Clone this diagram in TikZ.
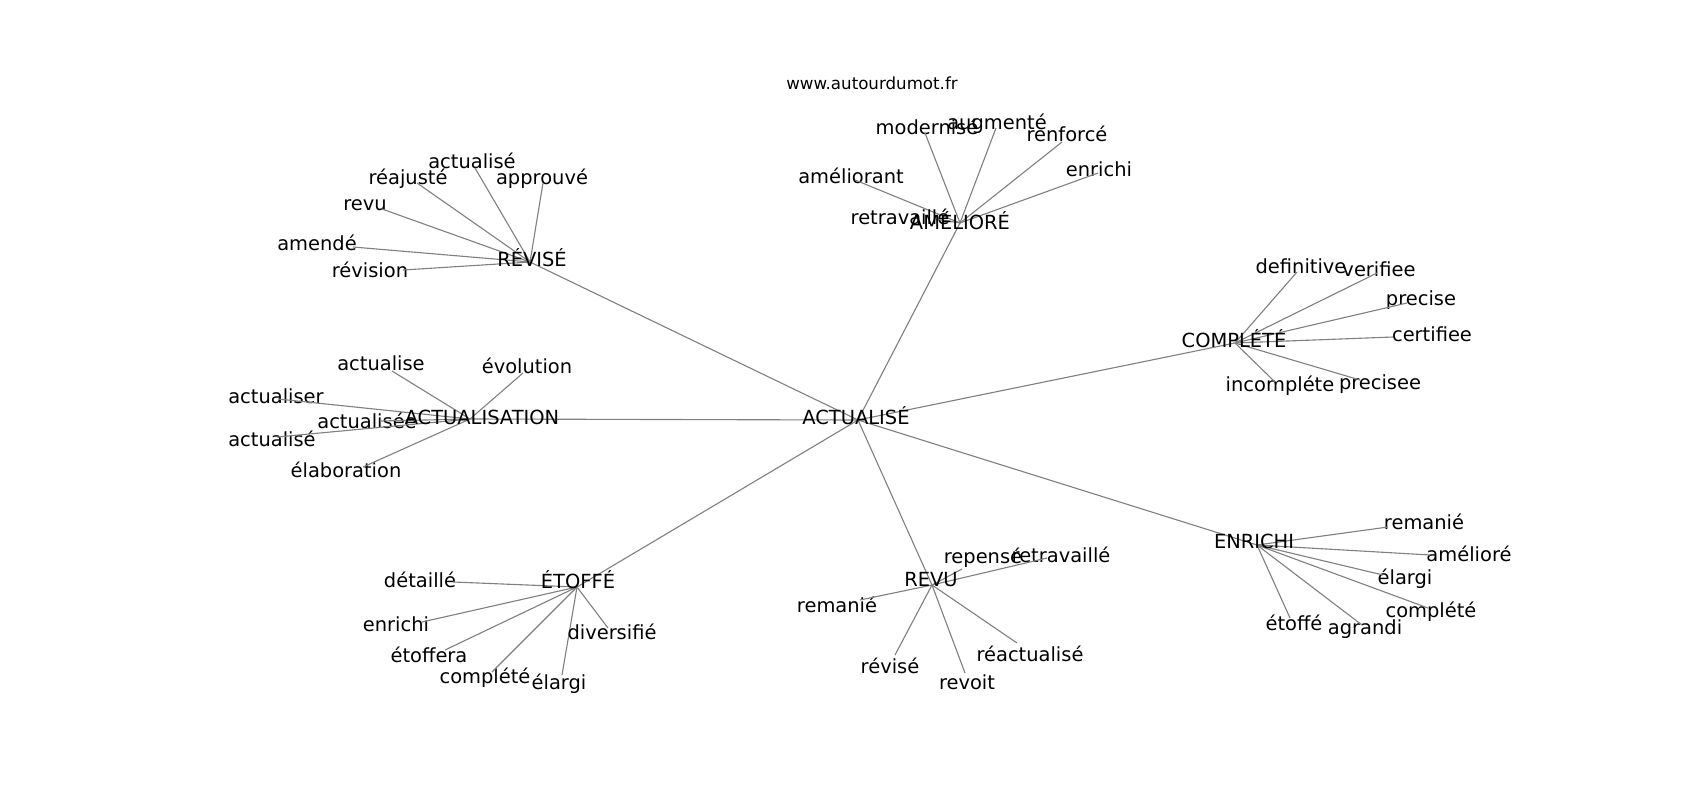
\documentclass[tikz,border=0pt]{standalone}
\usepackage{fontspec}
\setmainfont{DejaVu Sans}
\usepackage{tikz}

\begin{document}
\begin{tikzpicture}[x=0.72pt, y=-0.72pt,
                    link/.style={draw=gray, line width=0.8pt},
                    every node/.style={font=\fontsize{14}{16}\selectfont, inner sep=0pt,
                                       text height=1.15em, text depth=0.17em}]

    \useasboundingbox (0,0) rectangle (1700,800);

    % Source
    \node[font=\fontsize{12}{14}\selectfont] (site) at (872,83) {www.autourdumot.fr};

    % Centre and its seven neighbours
    \coordinate (actu) at (858,420);
    \coordinate (revise) at (530,262);
    \coordinate (ameliore) at (960,223);
    \coordinate (complete) at (1235,343);
    \coordinate (enrichi) at (1257,545);
    \coordinate (revu) at (932,585);
    \coordinate (etoffe) at (577,587);
    \coordinate (actualisation) at (470,419);

    \foreach \hub in {revise, ameliore, complete, enrichi, revu, etoffe, actualisation}
        \draw[link] (actu) -- (\hub);

    % Second level: end point / label position / text
    \foreach \n/\ex/\ey/\tx/\ty/\w in {
            rv1/475/168/472/162/actualisé, rv2/417/183/408/178/réajusté,
            rv3/543/183/542/178/approuvé, rv4/382/209/365/204/revu,
            rv5/353/247/317/244/amendé, rv6/403/270/370/271/révision}
        {\coordinate (\n) at (\ex,\ey);
         \node (\n-t) at (\tx,\ty) {\w};
         \draw[link] (revise) -- (\n);}

    \foreach \n/\ex/\ey/\tx/\ty/\w in {
            am1/925/133/927/128/modernisé, am2/996/128/997/123/augmenté,
            am3/1062/142/1067/135/renforcé, am4/1098/173/1099/170/enrichi,
            am5/855/180/851/177/améliorant, am6/935/219/900/218/retravaillé}
        {\coordinate (\n) at (\ex,\ey);
         \node (\n-t) at (\tx,\ty) {\w};
         \draw[link] (ameliore) -- (\n);}

    \foreach \n/\ex/\ey/\tx/\ty/\w in {
            co1/1297/272/1301/267/definitive, co2/1377/273/1379/270/verifiee,
            co3/1407/303/1421/299/precise, co4/1393/337/1432/335/certifiee,
            co5/1360/380/1380/383/precisee, co6/1275/382/1280/385/incompléte}
        {\coordinate (\n) at (\ex,\ey);
         \node (\n-t) at (\tx,\ty) {\w};
         \draw[link] (complete) -- (\n);}

    \foreach \n/\ex/\ey/\tx/\ty/\w in {
            en1/1388/527/1424/523/remanié, en2/1430/555/1469/555/amélioré,
            en3/1383/575/1405/578/élargi, en4/1428/608/1431/611/complété,
            en5/1362/625/1365/628/agrandi, en6/1290/618/1294/624/étoffé}
        {\coordinate (\n) at (\ex,\ey);
         \node (\n-t) at (\tx,\ty) {\w};
         \draw[link] (enrichi) -- (\n);}

    \foreach \n/\ex/\ey/\tx/\ty/\w in {
            rs1/962/569/983/557/repensé, rs2/1047/558/1061/556/retravaillé,
            rs3/860/600/837/606/remanié, rs4/895/655/890/667/révisé,
            rs5/965/673/967/683/revoit, rs6/1017/643/1030/655/réactualisé}
        {\coordinate (\n) at (\ex,\ey);
         \node (\n-t) at (\tx,\ty) {\w};
         \draw[link] (revu) -- (\n);}

    \foreach \n/\ex/\ey/\tx/\ty/\w in {
            et1/453/582/420/581/détaillé, et2/422/622/396/625/enrichi,
            et3/445/650/429/656/étoffera, et4/492/672/485/677/complété,
            et5/562/675/559/683/élargi, et6/608/628/612/633/diversifié}
        {\coordinate (\n) at (\ex,\ey);
         \node (\n-t) at (\tx,\ty) {\w};
         \draw[link] (etoffe) -- (\n);}

    \foreach \n/\ex/\ey/\tx/\ty/\w in {
            ac1/392/371/381/364/actualise, ac2/523/373/527/367/évolution,
            ac3/278/399/276/397/actualiser, ac4/380/421/367/422/actualisée,
            ac5/277/437/272/440/actualisé, ac6/363/467/346/471/élaboration}
        {\coordinate (\n) at (\ex,\ey);
         \node (\n-t) at (\tx,\ty) {\w};
         \draw[link] (actualisation) -- (\n);}

    % Hub labels on top
    \node (actu-t) at (856,418) {ACTUALISÉ};
    \node (revise-t) at (532,260) {RÉVISÉ};
    \node (ameliore-t) at (960,223) {AMÉLIORÉ};
    \node (complete-t) at (1234,341) {COMPLÉTÉ};
    \node (enrichi-t) at (1254,542) {ENRICHI};
    \node (revu-t) at (931,580) {REVU};
    \node (etoffe-t) at (578,582) {ÉTOFFÉ};
    \node (actualisation-t) at (482,418) {ACTUALISATION};

\end{tikzpicture}
\end{document}
